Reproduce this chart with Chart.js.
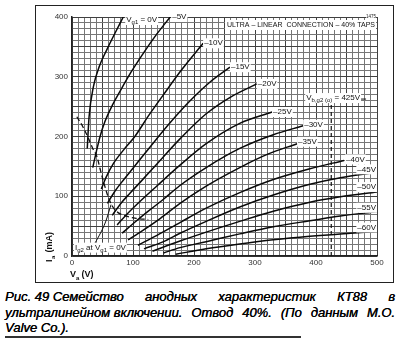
<!DOCTYPE html>
<html>
<head>
<meta charset="utf-8">
<script src="https://cdn.jsdelivr.net/npm/chart.js@4.4.1/dist/chart.umd.min.js"></script>
<style>
html, body { margin: 0; padding: 0; background: #fff; }
body { width: 400px; height: 340px; position: relative; overflow: hidden; }
#wrap { position: absolute; left: 0; top: 0; width: 400px; height: 285px; }
#frame { position: absolute; left: 35px; top: 5px; width: 357px; height: 276px; border: 1.5px solid #222; pointer-events: none; }
#caption { position: absolute; left: 5px; top: 289px; width: 390px; color: #000;
  font: italic 13px/15.5px "Liberation Sans", Arial, sans-serif; text-shadow: 0.35px 0 0 #000; }
#caption div { text-align: justify; text-align-last: justify; }
#caption div.last { text-align-last: left; }
#caption span { display: inline-block; }
#rule { position: absolute; left: 5px; top: 336px; width: 296px; height: 2px; background: #333; }
</style>
</head>
<body>
<div id="wrap"><canvas id="chart" width="400" height="285"></canvas></div>
<div id="frame"></div>
<div id="caption">
  <div><span>Рис. 49 Семейство</span> анодных характеристик КТ88 в</div>
  <div><span>ультралинейном включении.</span> Отвод 40%. (По данным М.О.</div>
  <div class="last">Valve Co.).</div>
</div>
<div id="rule"></div>
<script>
// Axis ticks
const vaTicks = [0, 100, 200, 300, 400, 500];
const iaTicks = [0, 100, 200, 300, 400];

// Anode curves, [Va (V), Ia (mA)] for each Vg1
const vg0 = [[25, 180], [28, 233], [35, 283], [45, 318], [57, 345], [70, 372], [84, 400]];
const vg5 = [[34, 148], [40, 175], [46, 200], [54, 225], [66, 252], [80, 278], [97, 308], [116, 338], [138, 370], [161, 400]];
const vg10 = [[48, 112], [56, 132], [68, 155], [85, 178], [103, 200], [125, 234], [150, 270], [180, 312], [215, 356]];
const vg15 = [[58, 88], [70, 108], [85, 128], [100, 147], [130, 185], [160, 222], [190, 256], [225, 290], [259, 316]];
const vg20 = [[66, 68], [80, 88], [95, 105], [115, 127], [140, 155], [177, 196], [220, 238], [260, 266], [303, 288]];
const vg25 = [[74, 52], [90, 70], [110, 90], [140, 118], [177, 152], [220, 188], [275, 222], [328, 241]];
const vg30 = [[82, 38], [100, 54], [125, 75], [150, 95], [177, 118], [220, 148], [275, 180], [330, 203], [379, 218]];
const vg35 = [[92, 27], [115, 42], [145, 63], [177, 88], [220, 117], [275, 148], [320, 170], [369, 188]];
const vg40 = [[108, 18], [140, 35], [177, 56], [220, 80], [275, 106], [330, 128], [390, 146], [446, 160]];
const vg45 = [[118, 12], [150, 24], [177, 38], [220, 58], [275, 82], [330, 102], [390, 120], [440, 131], [500, 140]];
const vg50 = [[132, 8], [177, 25], [220, 40], [275, 58], [330, 75], [390, 90], [440, 99], [500, 107]];
const vg55 = [[150, 5], [177, 14], [220, 24], [275, 37], [330, 49], [390, 59], [440, 67], [500, 74]];
const vg60 = [[170, 3], [220, 12], [275, 20], [330, 27], [390, 33], [440, 37], [500, 41]];

const curves = [vg0, vg5, vg10, vg15, vg20, vg25, vg30, vg35, vg40, vg45, vg50, vg55, vg60];
const curveLabels = ['0V', '–5V', '–10V', '–15V', '–20V', '–25V', '–30V', '–35V', '–40V', '–45V', '–50V', '–55V', '–60V'];

// Knee locus (dashed) and Ig2 at Vg1 = 0V
const kneeLine = [[8, 233], [18, 216], [26, 199], [34, 180], [41, 166], [46, 146], [54, 116], [60, 97], [67, 82], [75, 73], [88, 67], [105, 63], [125, 61]];
const ig2Line = [[35, 17], [45, 35], [55, 57], [64, 86]];
// Vb,g2(o) = 425V marker
const vbLine = [[425, 0], [425, 261]];

// where each label sits relative to the curve end (px)
const labelPlace = [
    { dx: 3, dy: 3 }, { dx: 2, dy: 0 }, { dx: 1, dy: 0 }, { dx: 1, dy: 0 },
    { dx: 1, dy: 0 }, { dx: 1, dy: 0 }, { dx: 1, dy: -1 }, { dx: 1, dy: -2 },
    { dx: 2, dy: -1 }, { right: true, dy: -3 }, { right: true, dy: -5 },
    { right: true, dy: -4 }, { right: true, dy: -4 },
];

const LABEL_FONT = '8px "Liberation Sans Narrow", "Liberation Sans", sans-serif';
const SUB_FONT = '6px "Liberation Sans Narrow", "Liberation Sans", sans-serif';

function toXY(pts) {
    return pts.map(p => ({ x: p[0], y: p[1] }));
}

function drawParts(ctx, parts, x, y, bg) {
    let w = 0;
    parts.forEach(p => { ctx.font = p.sub ? SUB_FONT : LABEL_FONT; w += ctx.measureText(p.t).width; });
    if (bg) {
        ctx.fillStyle = '#fff';
        ctx.fillRect(x - 1, y - 5, w + 2, 10);
    }
    ctx.fillStyle = '#111';
    let cx = x;
    parts.forEach(p => {
        ctx.font = p.sub ? SUB_FONT : LABEL_FONT;
        ctx.fillText(p.t, cx, p.sub ? y + 2.5 : y);
        cx += ctx.measureText(p.t).width;
    });
    return w;
}

const labelPlugin = {
    id: 'curveLabels',
    afterDatasetsDraw(chart) {
        const { ctx, scales: { x, y }, chartArea } = chart;
        ctx.save();
        ctx.textBaseline = 'middle';
        ctx.textAlign = 'left';

        curves.forEach((pts, i) => {
            const last = pts[pts.length - 1];
            const px = x.getPixelForValue(last[0]);
            const py = y.getPixelForValue(last[1]);
            const place = labelPlace[i];
            if (i === 0) {
                drawParts(ctx, [{ t: 'V' }, { t: 'g1', sub: true }, { t: ' = 0V' }], px + place.dx, py + place.dy, true);
                return;
            }
            ctx.font = LABEL_FONT;
            const w = ctx.measureText(curveLabels[i]).width;
            const lx = place.right ? chartArea.right - w - 1 : px + place.dx;
            drawParts(ctx, [{ t: curveLabels[i] }], lx, py + place.dy, true);
        });

        // Vb,g2(o) = 425V
        const vx = x.getPixelForValue(vbLine[1][0]);
        const vy = y.getPixelForValue(vbLine[1][1]) - 2;
        const w = drawParts(ctx, [{ t: 'V' }, { t: 'b,g2 (o)', sub: true }, { t: ' = 425V' }], vx - 25, vy, true);
        ctx.strokeStyle = '#111';
        ctx.lineWidth = 1;
        ctx.beginPath();
        ctx.moveTo(vx - 24 + w, vy + 1);
        ctx.lineTo(vx - 19 + w, vy + 1);
        ctx.stroke();

        // connection note
        ctx.font = LABEL_FONT;
        const note = 'ULTRA – LINEAR  CONNECTION – 40% TAPS';
        ctx.fillStyle = '#fff';
        ctx.fillRect(chartArea.right - 152, chartArea.top + 3, 151, 10);
        ctx.fillStyle = '#111';
        ctx.textAlign = 'right';
        ctx.fillText(note, chartArea.right - 2, chartArea.top + 8, 148);
        ctx.font = '5px "Liberation Sans", sans-serif';
        ctx.fillStyle = '#fff';
        ctx.fillRect(chartArea.right - 11, chartArea.top - 2, 10, 5);
        ctx.fillStyle = '#222';
        ctx.fillText('1475', chartArea.right - 1, chartArea.top, 10);

        // Ig2 note
        ctx.textAlign = 'left';
        drawParts(ctx, [{ t: 'I' }, { t: 'g2', sub: true }, { t: ' at V' }, { t: 'g1', sub: true }, { t: ' = 0V' }],
            chartArea.left + 3, y.getPixelForValue(14), true);

        // axis titles
        ctx.font = 'bold 9px "Liberation Sans", sans-serif';
        ctx.fillStyle = '#111';
        ctx.textAlign = 'left';
        ctx.fillText('V', 70, 275);
        ctx.font = 'bold 6px "Liberation Sans", sans-serif';
        ctx.fillText('a', 76, 278);
        ctx.font = 'bold 9px "Liberation Sans", sans-serif';
        ctx.fillText(' (V)', 79, 275);

        ctx.translate(50, 262);
        ctx.rotate(-Math.PI / 2);
        ctx.fillText('I', 0, 0);
        ctx.font = 'bold 6px "Liberation Sans", sans-serif';
        ctx.fillText('a', 3, 3);
        ctx.font = 'bold 9px "Liberation Sans", sans-serif';
        ctx.fillText(' (mA)', 7, 0);
        ctx.restore();
    },
};

function gridColor(ctx) {
    const v = ctx.tick ? ctx.tick.value : 0;
    return v % 50 === 0 ? '#404040' : '#767676';
}

const curveSets = curves.map((pts, i) => ({
    label: curveLabels[i],
    data: toXY(pts),
    borderColor: '#0a0a0a',
    borderWidth: 1.5,
    pointRadius: 0,
    cubicInterpolationMode: 'monotone',
}));

new Chart(document.getElementById('chart'), {
    type: 'line',
    data: {
        datasets: [
            ...curveSets,
            { label: 'knee', data: toXY(kneeLine), borderColor: '#111', borderWidth: 1.3, borderDash: [5, 3], pointRadius: 0, cubicInterpolationMode: 'monotone' },
            { label: 'Ig2', data: toXY(ig2Line), borderColor: '#111', borderWidth: 1, pointRadius: 0, cubicInterpolationMode: 'monotone' },
            { label: 'Vb', data: toXY(vbLine), borderColor: '#111', borderWidth: 1.2, borderDash: [4, 3], pointRadius: 0 },
        ],
    },
    options: {
        responsive: false,
        animation: false,
        events: [],
        layout: { padding: { left: 0, right: 23, top: 17, bottom: 0 } },
        plugins: { legend: { display: false }, tooltip: { enabled: false } },
        scales: {
            x: {
                type: 'linear',
                min: vaTicks[0],
                max: vaTicks[vaTicks.length - 1],
                afterFit(s) { s.height = 29; },
                ticks: {
                    stepSize: 10,
                    maxTicksLimit: 100,
                    autoSkip: false,
                    maxRotation: 0,
                    padding: 2,
                    color: '#333',
                    font: { size: 8, family: '"Liberation Sans", sans-serif' },
                    callback: v => (vaTicks.includes(v) ? v : ''),
                },
                grid: { color: gridColor, lineWidth: 1, drawTicks: false },
                border: { color: '#222', width: 1.5 },
            },
            y: {
                type: 'linear',
                min: iaTicks[0],
                max: iaTicks[iaTicks.length - 1],
                afterFit(s) { s.width = 72; },
                ticks: {
                    stepSize: 10,
                    maxTicksLimit: 100,
                    autoSkip: false,
                    padding: 4,
                    color: '#333',
                    font: { size: 8, family: '"Liberation Sans", sans-serif' },
                    callback: v => (iaTicks.includes(v) ? v : ''),
                },
                grid: { color: gridColor, lineWidth: 1, drawTicks: false },
                border: { color: '#222', width: 1.5 },
            },
        },
    },
    plugins: [labelPlugin],
});
</script>
</body>
</html>
